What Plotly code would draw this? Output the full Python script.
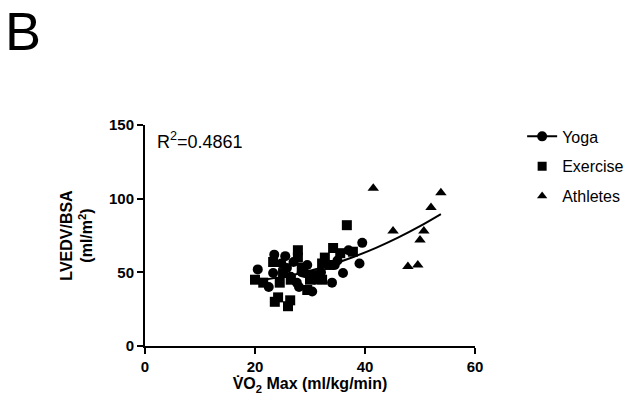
import plotly.graph_objects as go

# Yoga (circles)
yoga_x = [20.5, 23.5, 25.5, 24.8, 23.3, 25.8, 26.5, 27.6, 28.5, 29.0, 30.4, 31.0, 29.5, 32.0, 34.0, 34.5, 36.0, 37.0, 39.0, 39.5, 35.0, 27.0, 28.0, 22.5]
yoga_y = [52, 62, 61, 56, 49.5, 53, 47, 43, 50, 49.5, 37, 45, 55, 50, 43, 55, 49.5, 65, 56, 70, 58, 57, 40, 40]

# Exercise (squares)
ex_x = [20.0, 21.5, 23.3, 24.2, 23.6, 26.4, 26.0, 27.8, 27.8, 25.1, 30.0, 32.2, 32.2, 32.7, 34.2, 35.5, 37.8, 36.7, 24.5, 28.5, 29.5, 31.0, 26.5, 33.5, 30.5]
ex_y = [45, 43, 57, 33, 30, 31, 27, 65, 60, 49.5, 45, 45, 56, 60, 66.5, 63, 64, 82, 43, 53, 38, 48, 45, 55, 48]

# Athletes (triangles)
ath_x = [41.5, 53.8, 52.0, 45.1, 50.7, 50.0, 47.8, 49.6]
ath_y = [107, 104, 94, 78, 78, 72, 54, 55]

# Fit curve
fit_x = [21.5, 26, 30, 34, 38, 42, 46, 50, 53.8]
fit_y = [44.9, 47.6, 51.1, 55.4, 60.6, 66.6, 73.5, 81.3, 89.5]

x_ticks = [0, 20, 40, 60]
y_ticks = [0, 50, 100, 150]

FONT = "Liberation Sans, Arial, sans-serif"

fig = go.Figure()
fig.add_trace(go.Scatter(x=fit_x, y=fit_y, mode="lines", line=dict(color="black", width=2, shape="spline"),
                         showlegend=False, hoverinfo="skip"))
fig.add_trace(go.Scatter(x=yoga_x, y=yoga_y, mode="markers",
                         marker=dict(symbol="circle", size=10, color="black"), showlegend=False))
fig.add_trace(go.Scatter(x=ex_x, y=ex_y, mode="markers",
                         marker=dict(symbol="square", size=10, color="black"), showlegend=False))
fig.add_trace(go.Scatter(x=ath_x, y=ath_y, mode="markers",
                         marker=dict(symbol="triangle-up", size=10, color="black"), showlegend=False))
# legend entries
fig.add_trace(go.Scatter(x=[None], y=[None], mode="lines+markers", name="Yoga", legendgroup="a",
                         line=dict(color="black", width=2), marker=dict(symbol="circle", size=10, color="black")))
fig.add_trace(go.Scatter(x=[None], y=[None], mode="markers", name="Exercise", legendgroup="b",
                         marker=dict(symbol="square", size=9, color="black")))
fig.add_trace(go.Scatter(x=[None], y=[None], mode="markers", name="Athletes", legendgroup="c",
                         marker=dict(symbol="triangle-up", size=9, color="black")))

axis_common = dict(showline=True, linecolor="black", linewidth=2, ticks="outside", ticklen=6,
                   tickwidth=2, tickcolor="black", showgrid=False, zeroline=False, automargin=False,
                   tickfont=dict(family=FONT, size=15, color="black", weight="bold"))

W, H = 627, 398
L, T, PW, PH = 137, 117, 330, 221

fig.update_layout(
    width=W, height=H,
    margin=dict(l=L, r=W - L - PW, t=T, b=H - T - PH, autoexpand=False),
    paper_bgcolor="white", plot_bgcolor="white",
    font=dict(family=FONT, color="black"),
    xaxis=dict(range=[0, 60], tickvals=x_ticks, **axis_common,
               title=dict(text="V\u0307O<sub>2</sub> Max (ml/kg/min)",
                          font=dict(family=FONT, size=16, color="black", weight="bold"), standoff=3)),
    yaxis=dict(range=[0, 150], tickvals=y_ticks, **axis_common,
               title=dict(text="LVEDV/BSA<br>(ml/m<sup>2</sup>)",
                          font=dict(family=FONT, size=16, color="black", weight="bold"), standoff=12)),
    legend=dict(xref="container", yref="container", x=0.82, y=0.72, xanchor="left", yanchor="top",
                bgcolor="rgba(0,0,0,0)",
                font=dict(family=FONT, size=16, color="black"), tracegroupgap=6, itemwidth=30),
    annotations=[
        dict(text="R<sup>2</sup>=0.4861", x=0.03, y=0.99, xref="paper", yref="paper",
             xanchor="left", yanchor="top", showarrow=False,
             font=dict(family=FONT, size=18, color="black")),
        dict(text="B", x=(-5 - L) / PW, y=1 + (T + 9) / PH, xref="paper", yref="paper",
             xanchor="left", yanchor="top",
             showarrow=False, font=dict(family=FONT, size=54, color="black")),
    ],
)

fig.write_html("out.html")
